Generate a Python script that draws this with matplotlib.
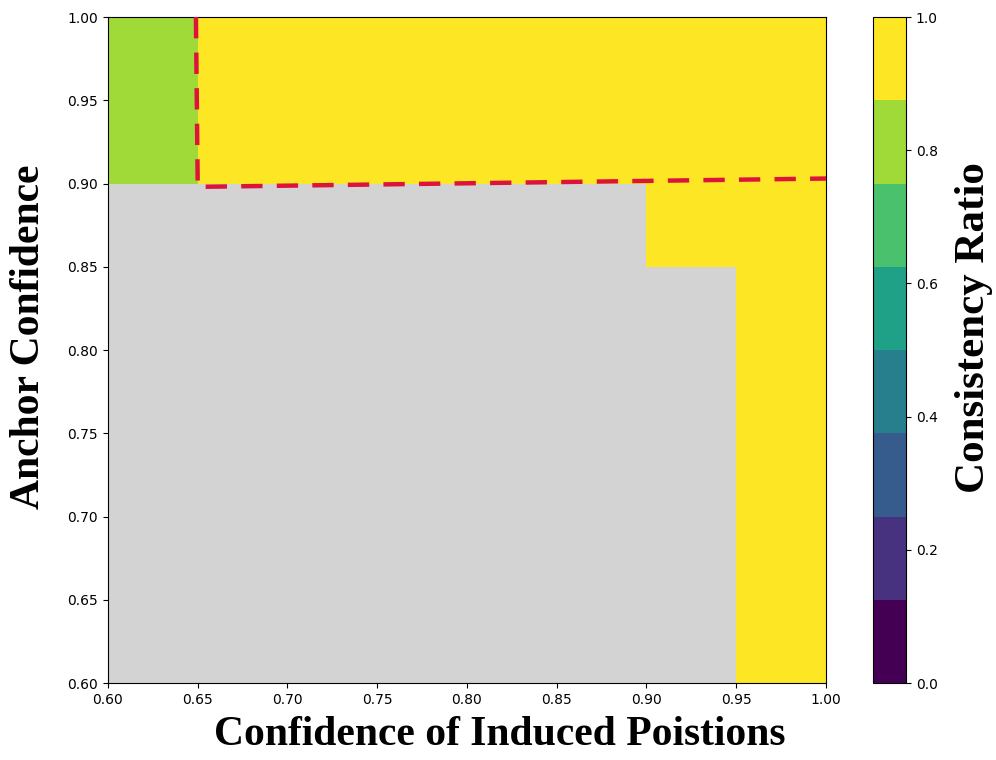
import numpy as np
import matplotlib
matplotlib.use("Agg")
from matplotlib import pyplot as plt
from matplotlib.colors import Normalize

# grid edges (confidence thresholds)
x_edges = [0.60, 0.65, 0.70, 0.75, 0.80, 0.85, 0.90, 0.95, 1.00]
y_edges = [0.60, 0.65, 0.70, 0.75, 0.80, 0.85, 0.90, 0.95, 1.00]

nan = np.nan
# consistency ratio, rows from y=0.60 (bottom) to y=1.00 (top); nan = no data
ratio = [
    [nan, nan, nan, nan, nan, nan, nan, 1.0],
    [nan, nan, nan, nan, nan, nan, nan, 1.0],
    [nan, nan, nan, nan, nan, nan, nan, 1.0],
    [nan, nan, nan, nan, nan, nan, nan, 1.0],
    [nan, nan, nan, nan, nan, nan, nan, 1.0],
    [nan, nan, nan, nan, nan, nan, 1.0, 1.0],
    [0.8, 1.0, 1.0, 1.0, 1.0, 1.0, 1.0, 1.0],
    [0.8, 1.0, 1.0, 1.0, 1.0, 1.0, 1.0, 1.0],
]

# hand-drawn boundary of the high-confidence region
boundary_x = [0.649, 0.650, 1.000]
boundary_y = [1.000, 0.898, 0.903]

cbar_ticks = [0.0, 0.2, 0.4, 0.6, 0.8, 1.0]
ticks = [0.60, 0.65, 0.70, 0.75, 0.80, 0.85, 0.90, 0.95, 1.00]

fig = plt.figure(figsize=(9.96, 7.6), dpi=100)
ax = fig.add_axes([0.1084, 0.1013, 0.7209, 0.8763])
cax = fig.add_axes([0.8765, 0.1013, 0.0331, 0.8763])

cmap = plt.get_cmap("viridis", 8)
data = np.ma.masked_invalid(np.array(ratio))
ax.set_facecolor("#d3d3d3")
mesh = ax.pcolormesh(x_edges, y_edges, data, cmap=cmap,
                     norm=Normalize(0, 1), shading="flat")

ax.plot(boundary_x, boundary_y, color="#dc143c", linewidth=3.2,
        dashes=(4.8, 3.2), clip_on=False, zorder=5)

ax.set_xlim(0.6, 1.0)
ax.set_ylim(0.6, 1.0)
ax.set_xticks(ticks)
ax.set_yticks(ticks)
ax.set_xticklabels([f"{t:.2f}" for t in ticks], fontsize=10)
ax.set_yticklabels([f"{t:.2f}" for t in ticks], fontsize=10)

ax.set_xlabel("Confidence of Induced Poistions", family="Liberation Serif",
              weight="bold", size=30)
ax.xaxis.set_label_coords(0.546, -0.05)
ax.set_ylabel("Anchor Confidence", family="Liberation Serif",
              weight="bold", size=30)
ax.yaxis.set_label_coords(-0.084, 0.52)

cb = fig.colorbar(mesh, cax=cax, ticks=cbar_ticks)
cb.ax.tick_params(labelsize=10)
cb.set_label("Consistency Ratio", family="Liberation Serif",
             weight="bold", size=31)
cb.ax.yaxis.set_label_coords(2.5, 0.534)

fig.savefig("out.png", dpi=100)
plt.close(fig)
